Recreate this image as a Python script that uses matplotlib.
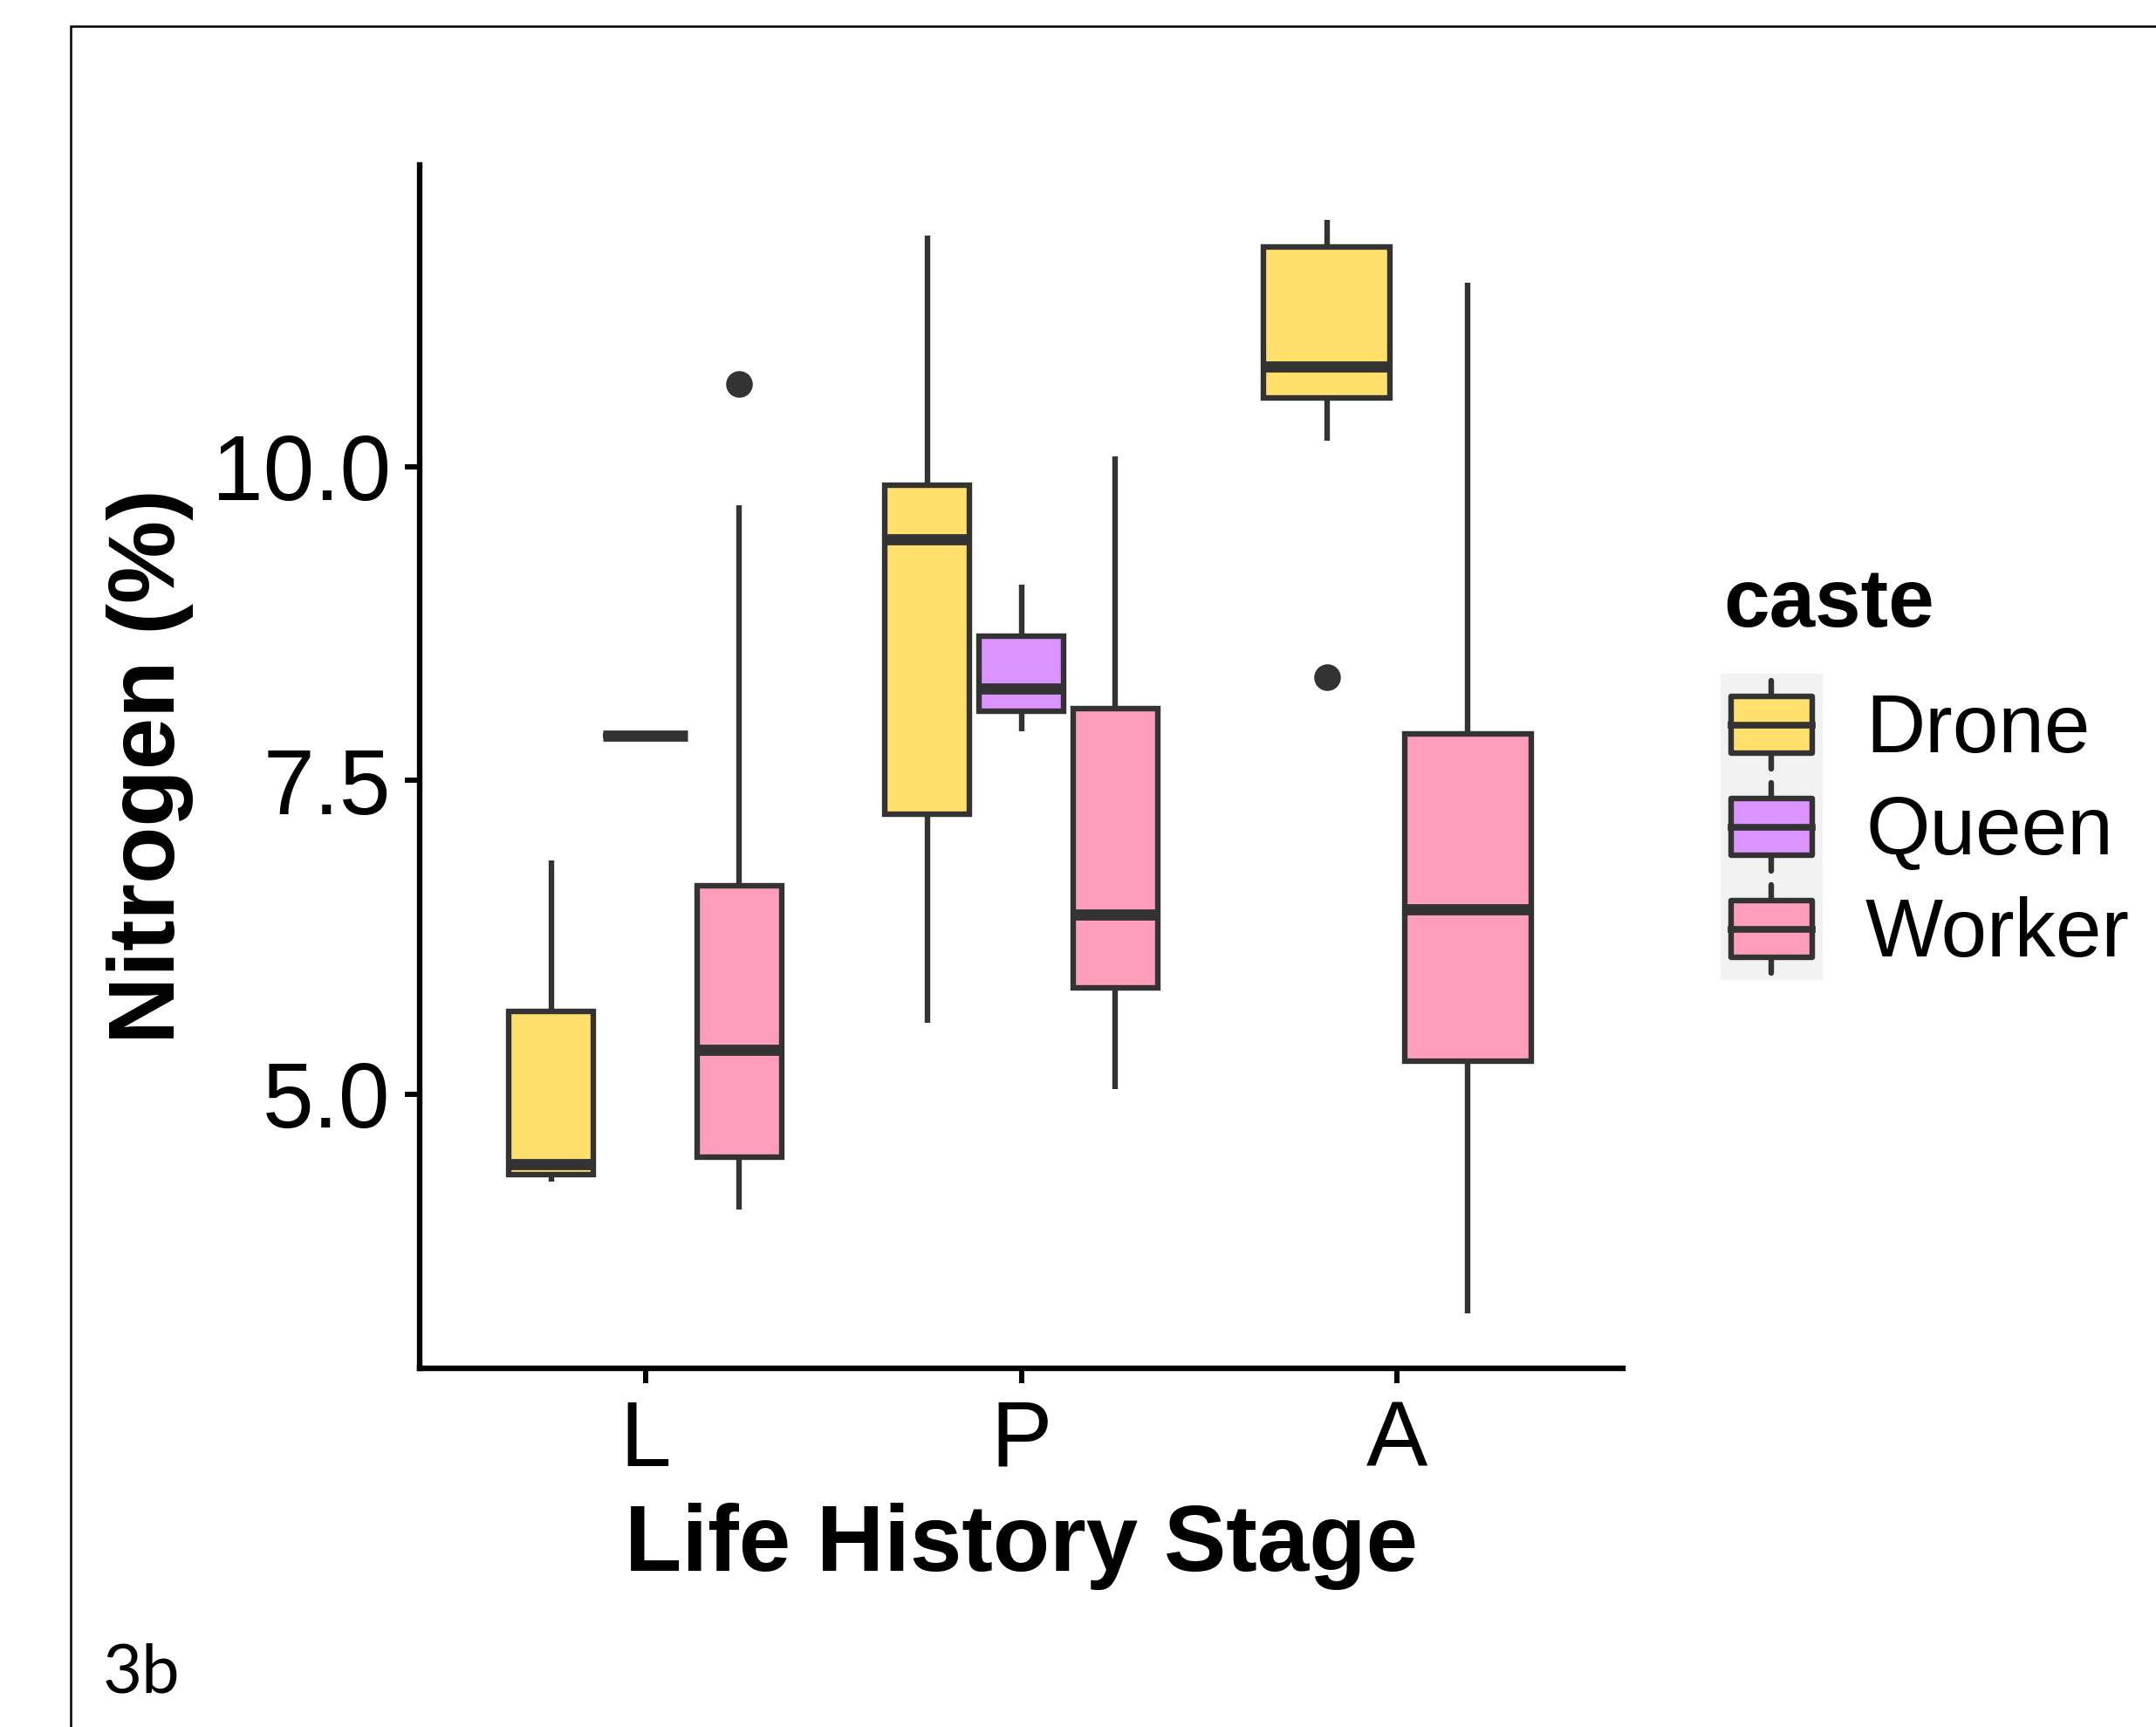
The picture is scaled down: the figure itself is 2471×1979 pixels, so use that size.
import matplotlib.pyplot as plt
from matplotlib.patches import Rectangle, Patch
from matplotlib.lines import Line2D
from matplotlib.legend_handler import HandlerBase

plt.rcParams['font.family'] = ['Liberation Sans', 'DejaVu Sans']

# categories
stages = ['L', 'P', 'A']
castes = ['Drone', 'Queen', 'Worker']
fills = {'Drone': '#FFE06B', 'Queen': '#DB93FF', 'Worker': '#FF9EBB'}
edge = '#333333'

# box statistics (one entry per stage present)
drone_stage = ['L', 'P', 'A']
drone_lo = [4.30, 5.57, 10.21]
drone_q1 = [4.36, 7.23, 10.55]
drone_med = [4.44, 9.42, 10.80]
drone_q3 = [5.66, 9.85, 11.75]
drone_hi = [6.86, 11.84, 11.97]
drone_out = [[], [], [8.32]]

queen_stage = ['L', 'P']
queen_lo = [7.86, 7.89]
queen_q1 = [7.86, 8.05]
queen_med = [7.86, 8.23]
queen_q3 = [7.86, 8.65]
queen_hi = [7.86, 9.06]
queen_out = [[], []]

worker_stage = ['L', 'P', 'A']
worker_lo = [4.08, 5.04, 3.25]
worker_q1 = [4.50, 5.85, 5.26]
worker_med = [5.35, 6.43, 6.47]
worker_q3 = [6.66, 8.07, 7.87]
worker_hi = [9.69, 10.08, 11.47]
worker_out = [[10.66], [], []]

series = {
    'Drone': (drone_stage, drone_lo, drone_q1, drone_med, drone_q3, drone_hi, drone_out),
    'Queen': (queen_stage, queen_lo, queen_q1, queen_med, queen_q3, queen_hi, queen_out),
    'Worker': (worker_stage, worker_lo, worker_q1, worker_med, worker_q3, worker_hi, worker_out),
}

W, H = 2471, 1979
fig = plt.figure(figsize=(W / 100, H / 100), dpi=100)
ax = fig.add_axes([481 / W, 1 - 1568 / H, (1860 - 481) / W, (1568 - 189) / H])

box_lw = 4.6
for caste in castes:
    st, lo, q1, med, q3, hi, out = series[caste]
    for i, stage in enumerate(st):
        present = [c for c in castes if stage in series[c][0]]
        n = len(present)
        slot = 0.75 / n
        k = present.index(caste)
        pos = stages.index(stage) - 0.375 + (k + 0.5) * slot
        stats = [dict(whislo=lo[i], q1=q1[i], med=med[i], q3=q3[i],
                      whishi=hi[i], fliers=out[i])]
        ax.bxp(stats, positions=[pos], widths=[0.9 * slot], patch_artist=True,
               showcaps=False, manage_ticks=False,
               boxprops=dict(facecolor=fills[caste], edgecolor=edge,
                             linewidth=box_lw, joinstyle='miter'),
               whiskerprops=dict(color=edge, linewidth=box_lw, solid_capstyle='butt'),
               medianprops=dict(color=edge, linewidth=2 * box_lw, solid_capstyle='butt'),
               flierprops=dict(marker='o', markerfacecolor=edge,
                               markeredgecolor='none', markersize=22))

# y range: data range expanded by 5%
all_vals = []
for c in castes:
    st, lo, q1, med, q3, hi, out = series[c]
    all_vals += lo + hi + [v for o in out for v in o]
ymin, ymax = min(all_vals), max(all_vals)
pad = 0.05 * (ymax - ymin)
ax.set_ylim(ymin - pad, ymax + pad)
ax.set_xlim(-0.6, len(stages) - 0.4)

ax.set_xticks(range(len(stages)))
ax.set_xticklabels(stages)
ax.set_yticks([5.0, 7.5, 10.0])
ax.set_yticklabels(['5.0', '7.5', '10.0'])
ax.tick_params(axis='both', labelsize=76, length=12, width=4.3, colors='black')
ax.tick_params(axis='x', pad=13)
ax.tick_params(axis='y', pad=12)

for side in ['top', 'right']:
    ax.spines[side].set_visible(False)
for side in ['left', 'bottom']:
    ax.spines[side].set_linewidth(4.6)
    ax.spines[side].set_capstyle('projecting')

ax.set_xlabel('Life History Stage', fontsize=77, fontweight='bold', va='baseline')
ax.xaxis.set_label_coords(0.5, -(1800 - 1568) / (1568 - 189))
ax.set_ylabel('Nitrogen (%)', fontsize=77, fontweight='bold', va='baseline')
ax.yaxis.set_label_coords(-(481 - 200) / (1860 - 481), 0.5)


# legend keys drawn as small boxplots on grey tiles
class BoxKey(HandlerBase):
    def create_artists(self, legend, orig_handle, xdescent, ydescent,
                       width, height, fontsize, trans):
        x0, y0 = -xdescent, -ydescent
        bg = Rectangle((x0, y0), width, height, facecolor='#F2F2F2',
                       edgecolor='none', transform=trans)
        bw, bh = width * 0.80, height * 0.55
        bx, by = x0 + (width - bw) / 2, y0 + (height - bh) / 2
        cx = x0 + width / 2
        kw = dict(color=edge, linewidth=box_lw, solid_capstyle='round', transform=trans)
        top = Line2D([cx, cx], [by + bh, y0 + height * 0.93], **kw)
        bot = Line2D([cx, cx], [y0 + height * 0.07, by], **kw)
        box = Rectangle((bx, by), bw, bh, facecolor=orig_handle.get_facecolor(),
                        edgecolor=edge, linewidth=box_lw, joinstyle='round',
                        transform=trans)
        med = Line2D([bx, bx + bw], [y0 + height / 2] * 2, color=edge,
                     linewidth=box_lw * 1.2, transform=trans)
        return [bg, top, bot, box, med]


handles = [Patch(facecolor=fills[c]) for c in castes]
ax.legend(handles, castes, handler_map={Patch: BoxKey()},
          loc='upper left', bbox_to_anchor=(1972 / W, 1 - 772 / H),
          bbox_transform=fig.transFigure, frameon=False, borderpad=0,
          borderaxespad=0, labelspacing=0, handlelength=1.238,
          handleheight=1.529, handletextpad=0.52, prop={'size': 68})
fig.text(1975 / W, 1 - 718 / H, 'caste', fontsize=68, fontweight='bold',
         ha='left', va='baseline')

# panel label and frame
fig.text(118 / W, 1 - 1940 / H, '3b', fontsize=56, family=['Lato', 'DejaVu Sans'],
         ha='left', va='baseline')
fig.add_artist(Rectangle((81 / W, -0.1), 2, 1 - 30 / H + 0.1, fill=False,
                         edgecolor='black', linewidth=1.8,
                         transform=fig.transFigure))

fig.savefig('out.png', dpi=100, facecolor='white')
